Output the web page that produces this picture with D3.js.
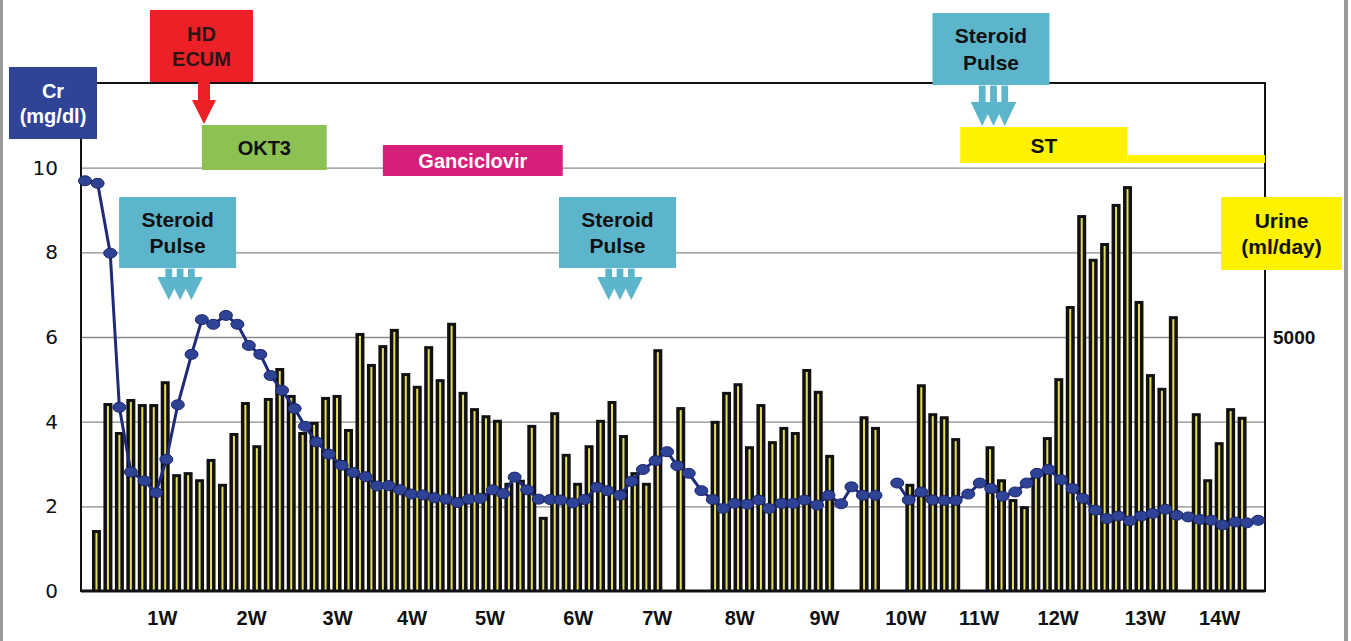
<!DOCTYPE html>
<html>
<head>
<meta charset="utf-8">
<script src="https://cdn.jsdelivr.net/npm/d3@7"></script>
<style>
	body { margin: 0; background: #fff; }
	svg { display: block; font-family: "Liberation Sans", Arial, sans-serif; }
</style>
</head>
<body>
<svg id="chart" width="1351" height="641"></svg>
<script>
// urine volume (ml/day), one value per day, null = no measurement
const urine = [
	1200, 3700, 3130, 3780, 3680, 3680, 4130, 2300, 2340, 2200,
	2600, 2110, 3110, 3720, 2870, 3800, 4390, 3860, 3130, 3330,
	3820, 3860, 3190, 5080, 4470, 4840, 5160, 4290, 4040, 4820,
	4170, 5280, 3920, 3600, 3460, 3370, 2130, 2190, 3270, 1460,
	3520, 2700, 2130, 2870, 3370, 3740, 3070, 2340, 2130, 4760,
	null, 3620, null, null, 3350, 3920, 4090, 2850, 3680, 2950,
	3230, 3130, 4370, 3940, 2680, null, null, 3440, 3230, null,
	null, 2110, 4070, 3500, 3440, 3010, null, null, 2850, 2200,
	1810, 1670, 2340, 3030, 4190, 5610, 7400, 6540, 6850, 7620,
	7970, 5710, 4270, 4000, 5410, null, 3500, 2200, 2930, 3600,
	3430,
];

// serum creatinine (mg/dl): measurement day and value, null = break in line
const crDays = [
	-1.0, 0.1, 1.2, 2.0, 3.0, 4.2, 5.2, 6.1, 7.1, 8.3,
	9.2, 10.2, 11.3, 12.3, 13.3, 14.3, 15.2, 16.2, 17.3, 18.2,
	19.2, 20.3, 21.4, 22.4, 23.5, 24.5, 25.5, 26.5, 27.5, 28.5,
	29.5, 30.5, 31.5, 32.5, 33.5, 34.6, 35.5, 36.5, 37.6, 38.6,
	39.6, 40.5, 41.6, 42.6, 43.7, 44.6, 45.7, 46.7, 47.7, 48.8,
	49.8, 50.7, 51.7, 52.8, 53.8, 54.7, 55.7, 56.8, 57.8, 58.7,
	59.8, 60.8, 61.8, 62.9, 63.9, 65.0, 65.9, 66.9, 68.0, 69.0,
	69.9, 70.9, 72.0, 73.0, 74.0, 75.0, 76.1, 77.1, 78.1, 79.1,
	80.2, 81.2, 82.1, 83.1, 84.2, 85.2, 86.1, 87.2, 88.2, 89.2,
	90.2, 91.2, 92.2, 93.3, 94.3, 95.3, 96.3, 97.3, 98.3, 99.4,
	100.4, 101.4,
];
const crValues = [
	9.69, 9.63, 7.98, 4.34, 2.81, 2.60, 2.32, 3.11, 4.40, 5.59,
	6.41, 6.30, 6.51, 6.30, 5.80, 5.59, 5.09, 4.74, 4.31, 3.89,
	3.52, 3.23, 2.97, 2.80, 2.70, 2.48, 2.49, 2.39, 2.29, 2.27,
	2.20, 2.17, 2.09, 2.17, 2.19, 2.39, 2.30, 2.69, 2.39, 2.17,
	2.16, 2.15, 2.08, 2.16, 2.45, 2.37, 2.26, 2.59, 2.87, 3.08,
	3.29, 2.96, 2.78, 2.37, 2.16, 1.95, 2.07, 2.05, 2.15, 1.95,
	2.07, 2.07, 2.15, 2.03, 2.26, 2.06, 2.46, 2.26, 2.26, null,
	2.55, 2.15, 2.34, 2.15, 2.14, 2.14, 2.29, 2.55, 2.42, 2.24,
	2.34, 2.55, 2.78, 2.87, 2.63, 2.42, 2.19, 1.91, 1.71, 1.77,
	1.66, 1.77, 1.83, 1.93, 1.79, 1.75, 1.69, 1.67, 1.56, 1.63,
	1.61, 1.67,
];

const crTicks = [0, 2, 4, 6, 8, 10];
const urineTicks = [5000];
const weekLabels = ["1W", "2W", "3W", "4W", "5W", "6W", "7W", "8W", "9W", "10W", "11W", "12W", "13W", "14W"];
const weekDays = [5.7, 13.5, 21.0, 27.5, 34.3, 42.0, 48.9, 56.1, 63.5, 70.6, 77.0, 83.9, 91.5, 98.0];

// treatments (day ranges) and steroid pulses (day)
const treatments = [
	{ name: "OKT3", from: 9.2, to: 20.1, fill: "#8dc153", color: "#111" },
	{ name: "Ganciclovir", from: 25.0, to: 40.7, fill: "#d61f7a", color: "#fff" },
];
const steroidPulseDays = [7.3, 45.7, 78.3];

const plot = { left: 81, right: 1265, top: 83, bottom: 591 };
const svg = d3.select("#chart");

const x = d3.scaleLinear([-1.35, 102], [plot.left, plot.right]);
const yCr = d3.scaleLinear([0, 12], [plot.bottom, plot.top]);
const yUrine = d3.scaleLinear([0, 10000], [plot.bottom, plot.top]);

// scanned page edges
svg.append("rect").attr("x", 0).attr("y", 0).attr("width", 3).attr("height", 641).attr("fill", "#9a9a9a");
svg.append("rect").attr("x", 1344).attr("y", 0).attr("width", 4).attr("height", 641).attr("fill", "#9a9a9a");

// grid lines
svg.append("g")
	.attr("transform", `translate(${plot.left},0)`)
	.call(d3.axisLeft(yCr).tickValues(crTicks.filter((d) => d > 0)).tickSize(-(plot.right - plot.left)).tickFormat(""))
	.call((g) => g.select(".domain").remove())
	.call((g) => g.selectAll("line").attr("stroke", "#8a8a8a").attr("stroke-width", 1.3));

// urine bars: black column with a thin yellow core
const barData = urine.map((v, i) => ({ day: i, value: v })).filter((d) => d.value != null);
const bars = svg.append("g");
bars.selectAll("rect.outer")
	.data(barData)
	.join("rect")
	.attr("class", "outer")
	.attr("x", (d) => x(d.day) - 4.5)
	.attr("y", (d) => yUrine(d.value))
	.attr("width", 9)
	.attr("height", (d) => plot.bottom - yUrine(d.value))
	.attr("fill", "#111");
bars.selectAll("rect.inner")
	.data(barData)
	.join("rect")
	.attr("class", "inner")
	.attr("x", (d) => x(d.day) - 1)
	.attr("y", (d) => yUrine(d.value) + 3)
	.attr("width", 2)
	.attr("height", (d) => plot.bottom - yUrine(d.value) - 3)
	.attr("fill", "#e4de5c");

// frame
svg.append("rect")
	.attr("x", plot.left).attr("y", plot.top)
	.attr("width", plot.right - plot.left).attr("height", plot.bottom - plot.top)
	.attr("fill", "none").attr("stroke", "#111").attr("stroke-width", 2);
svg.append("line")
	.attr("x1", plot.left).attr("x2", plot.right)
	.attr("y1", plot.bottom).attr("y2", plot.bottom)
	.attr("stroke", "#111").attr("stroke-width", 3);

// creatinine line
const crData = crDays.map((d, i) => ({ day: d, value: crValues[i] }));
const line = d3.line()
	.defined((d) => d.value != null)
	.x((d) => x(d.day))
	.y((d) => yCr(d.value));
svg.append("path")
	.datum(crData)
	.attr("d", line)
	.attr("fill", "none")
	.attr("stroke", "#1f2a78")
	.attr("stroke-width", 3);
svg.append("g")
	.selectAll("ellipse")
	.data(crData.filter((d) => d.value != null))
	.join("ellipse")
	.attr("cx", (d) => x(d.day))
	.attr("cy", (d) => yCr(d.value))
	.attr("rx", 6.5)
	.attr("ry", 5)
	.attr("fill", "#2f4396")
	.attr("stroke", "#1c2668")
	.attr("stroke-width", 1);

// axes labels
svg.append("g")
	.attr("transform", `translate(${plot.left},0)`)
	.call(d3.axisLeft(yCr).tickValues(crTicks).tickSize(0).tickPadding(23))
	.call((g) => g.select(".domain").remove())
	.call((g) => g.selectAll("text")
		.attr("font-family", "DejaVu Sans, sans-serif")
		.attr("font-size", 20)
		.attr("fill", "#111"));

svg.append("g")
	.attr("transform", `translate(${plot.right},0)`)
	.call(d3.axisRight(yUrine).tickValues(urineTicks).tickSize(0).tickPadding(8).tickFormat(d3.format("d")))
	.call((g) => g.select(".domain").remove())
	.call((g) => g.selectAll("text")
		.attr("font-family", "Liberation Sans, Arial, sans-serif")
		.attr("font-size", 19)
		.attr("font-weight", "bold")
		.attr("fill", "#111"));

svg.append("g")
	.attr("transform", `translate(0,${plot.bottom})`)
	.call(d3.axisBottom(x).tickValues(weekDays).tickSize(0).tickPadding(20)
		.tickFormat((d, i) => weekLabels[i]))
	.call((g) => g.select(".domain").remove())
	.call((g) => g.selectAll("text")
		.attr("font-family", "Liberation Sans, Arial, sans-serif")
		.attr("font-size", 20)
		.attr("font-weight", "bold")
		.attr("fill", "#111"));

// annotation boxes
function labelBox(x0, y0, w, h, fill, lines, color, size) {
	const g = svg.append("g");
	g.append("rect").attr("x", x0).attr("y", y0).attr("width", w).attr("height", h).attr("fill", fill);
	const step = size * 1.25;
	const startY = y0 + h / 2 - ((lines.length - 1) * step) / 2;
	lines.forEach((t, i) => {
		g.append("text")
			.attr("x", x0 + w / 2)
			.attr("y", startY + i * step)
			.attr("dy", "0.36em")
			.attr("text-anchor", "middle")
			.attr("font-size", size)
			.attr("font-weight", "bold")
			.attr("fill", color)
			.text(t);
	});
	return g;
}

const teal = "#5cb5ca";
function steroidArrows(cx, y0, yHead, yTip) {
	const g = svg.append("g");
	[-1, 0, 1].forEach((k) => {
		const tx = cx + k * 11.3;
		g.append("rect")
			.attr("x", tx - 4).attr("y", y0)
			.attr("width", 8).attr("height", yHead - y0 + 1)
			.attr("fill", teal).attr("stroke", "#fff").attr("stroke-width", 1.2);
	});
	[-1, 0, 1].forEach((k) => {
		const tx = cx + k * 11.3;
		g.append("path")
			.attr("d", `M${tx - 11.5},${yHead}L${tx + 11.5},${yHead}L${tx},${yTip}Z`)
			.attr("fill", teal);
	});
}

// Cr axis title
labelBox(9, 67, 88, 72, "#2f4496", ["Cr", "(mg/dl)"], "#fff", 20);

// HD / ECUM with arrow
labelBox(150, 10, 103, 72, "#ec2128", ["HD", "ECUM"], "#2a1616", 20);
svg.append("path")
	.attr("d", "M198,82L210,82L210,100L216,100L204,124L192,100L198,100Z")
	.attr("fill", "#ec2128");

// treatment bars
treatments.forEach((t, i) => {
	const y0 = i === 0 ? 125 : 145;
	const h = i === 0 ? 45 : 31;
	labelBox(x(t.from), y0, x(t.to) - x(t.from), h, t.fill, [t.name], t.color, 20);
});

// ST (steroid taper) bar
labelBox(x(75.4), 127, x(90.0) - x(75.4), 36, "#fff200", ["ST"], "#111", 21);
svg.append("rect")
	.attr("x", x(90.0)).attr("y", 155)
	.attr("width", plot.right - x(90.0)).attr("height", 8)
	.attr("fill", "#fff200");

// steroid pulses
const pulseBoxes = [
	{ y0: 197, h: 71, yHead: 277, yTip: 300 },
	{ y0: 197, h: 71, yHead: 277, yTip: 300 },
	{ y0: 13, h: 72, yHead: 102, yTip: 126 },
];
steroidPulseDays.forEach((d, i) => {
	const b = pulseBoxes[i];
	const cx = x(d);
	steroidArrows(cx, b.y0 + b.h, b.yHead, b.yTip);
	labelBox(cx - 61, b.y0, 117, b.h, teal, ["Steroid", "Pulse"], "#111", 21);
});

// urine axis title
labelBox(1221, 197, 121, 73, "#fff200", ["Urine", "(ml/day)"], "#111", 21);
</script>
</body>
</html>
